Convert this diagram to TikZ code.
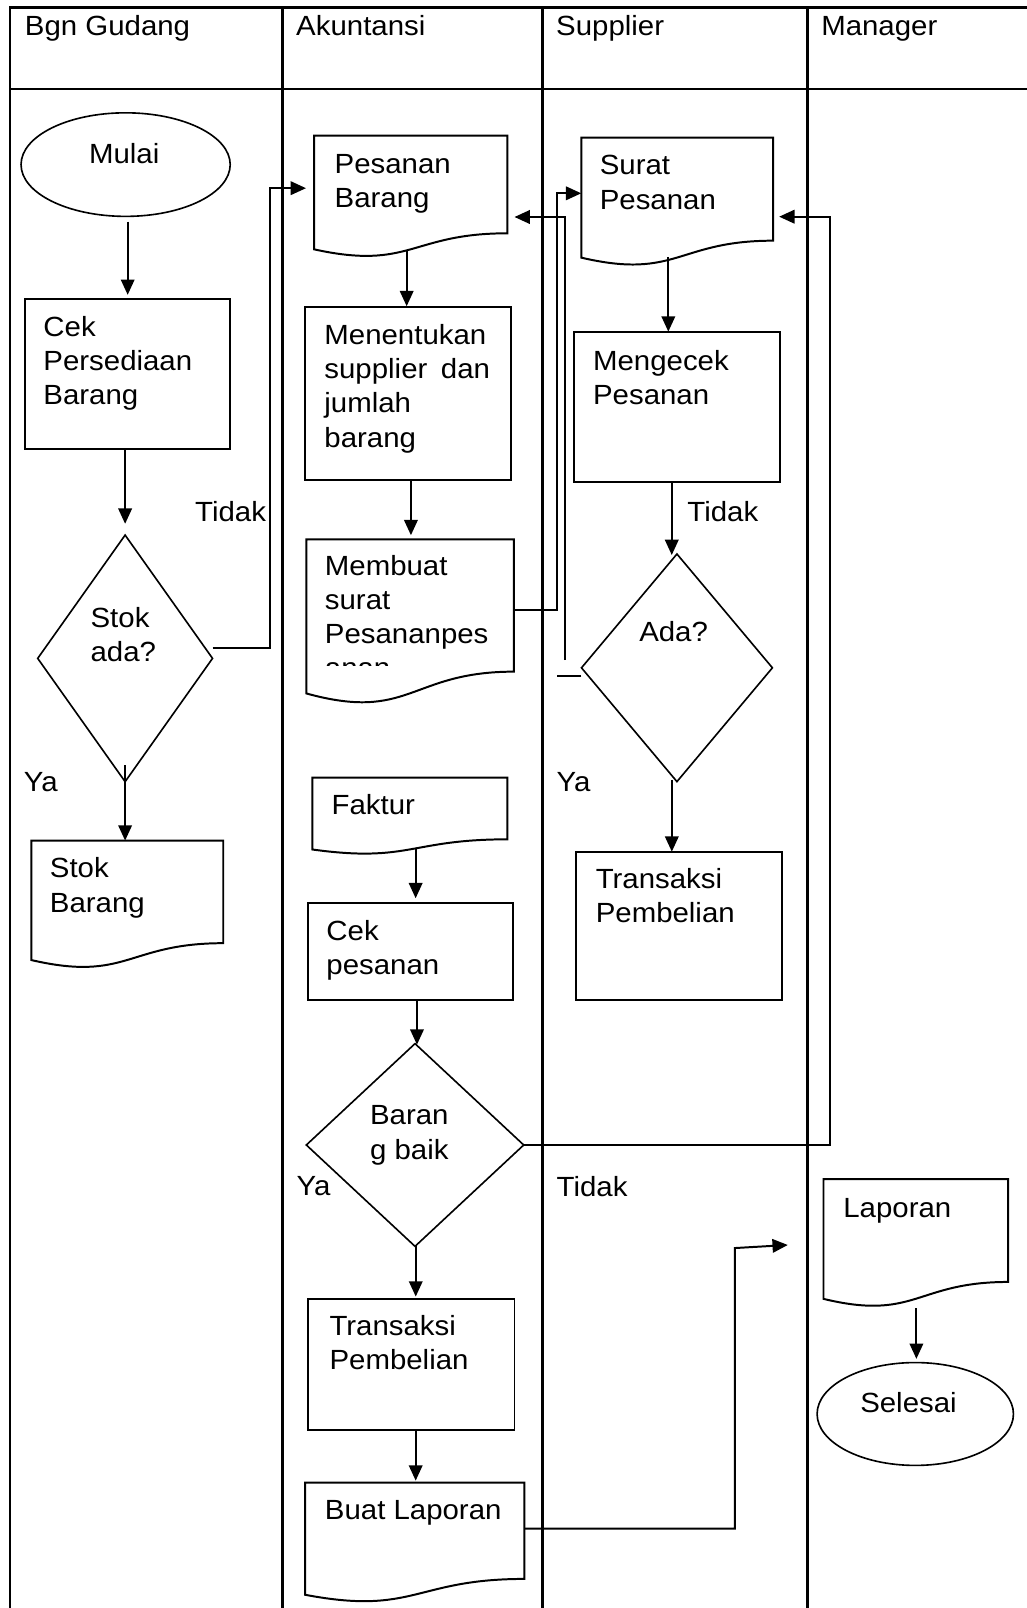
\documentclass[tikz,border=0pt]{standalone}
\usepackage{fontspec}
\setmainfont{Liberation Sans}[FakeStretch=1.06]
\usepackage{tikz}
\usetikzlibrary{arrows.meta,shapes.geometric,fit,calc}

% wavy bottom of a document symbol, drawn round a fitted node
\newcommand{\docwave}[1]{%
  \draw[line width=1.1pt] (#1.north west) -- (#1.north east)
    -- ($(#1.north east)!0.802!(#1.south east)$)
    .. controls ($(#1.north)!0.802!(#1.south)$) and ($(#1.north)!1.108!(#1.south)$)
    .. ($(#1.north west)!0.934!(#1.south west)$) -- cycle;}

\begin{document}
\begin{tikzpicture}[x=0.02cm, y=-0.02cm,
  lane/.style={line width=1.3pt},
  box/.style={draw, line width=1.1pt, inner sep=0, outer sep=0},
  doc/.style={inner sep=0, outer sep=0},
  term/.style={draw, ellipse, line width=0.9pt, inner sep=0, outer sep=0},
  decision/.style={draw, diamond, line width=0.9pt, inner sep=0, outer sep=0},
  txt/.style={inner sep=0, anchor=base west, align=left,
    font=\fontsize{15.4}{19}\selectfont},
  lines/.style={yshift=-#1*19pt},
  arr/.style={-{Triangle[length=8.5pt,width=7.5pt]}, line width=1.1pt}]

\useasboundingbox (0,0) rectangle (1001,1568);

% swimlanes
\draw[lane] (1001,7.2) -- (9.7,7.2) -- (9.7,1568);
\draw[lane] (9.7,87.1) -- (1001,87.1);
\foreach \x in {275.6, 529, 787.3}
  \draw[lane] (\x,7.2) -- (\x,1568);

\path
(24,34.8) node[txt] (gudang) {Bgn Gudang}
(288.5,34.8) node[txt] (akuntansi) {Akuntansi}
(542,34.8) node[txt] (supplier) {Supplier}
(800.5,34.8) node[txt] (manager) {Manager};

%% bgn gudang
\node[term, minimum width=4.08cm, minimum height=2.02cm] (mulai) at (122.5,160.5) {};
\node[txt] (mulaitext) at (86.5,159) {Mulai};

\node[box, fit={(24.3,291.5) (224.7,437.8)}] (cek) {};
\node[txt, lines=2] (cektext) at (42,328) {Cek\\Persediaan\\Barang};

\node[decision, minimum width=3.41cm, minimum height=4.81cm] (stok) at (122,642) {};
\node[txt, lines=1] (stoktext) at (88,612) {Stok\\ada?};

\node[doc, fit={(30.6,819.7) (217.7,944.4)}] (stokbrg) {};
\docwave{stokbrg}
\node[txt, lines=1] (stokbrgtext) at (48.3,856) {Stok\\Barang};

\node[txt] (tidaka) at (190,508.6) {Tidak};
\node[txt] (yaa) at (23,772) {Ya};

%% akuntansi
\node[doc, fit={(306.4,132.3) (494.7,251)}] (pesanan) {};
\docwave{pesanan}
\node[txt, lines=1] (pesanantext) at (326,169) {Pesanan\\Barang};

\node[box, fit={(297.5,299.6) (497.9,468.4)}] (tentukan) {};
\node[txt, lines=3] (tentukantext) at (316,335.8) {Menentukan\\supplier\hspace{3pt} dan\\jumlah\\barang};

\node[doc, fit={(298.7,525.9) (501,686.8)}] (membuat) {};
\docwave{membuat}
\begin{scope}
  \clip (290,540) rectangle (510,648.5);
  \node[txt, lines=3] (membuattext) at (316.5,560.7) {Membuat\\surat\\Pesananpes\\anan};
\end{scope}

\node[doc, fit={(304.5,758.3) (494.7,833.3)}] (faktur) {};
\docwave{faktur}
\node[txt] (fakturtext) at (323,794.7) {Faktur};

\node[box, fit={(300,880.9) (500,975)}] (cekpsn) {};
\node[txt, lines=1] (cekpsntext) at (318,917.3) {Cek\\pesanan};

\node[decision, minimum width=4.24cm, minimum height=3.954cm] (baik) at (404.7,1116.5) {};
\node[txt, lines=1] (baiktext) at (360.5,1097) {Baran\\g baik};
\node[txt] (yab) at (289,1166) {Ya};

\node[box, fit={(300.6,1266.3) (501.7,1394.8)}] (trans1) {};
\node[txt, lines=1] (trans1text) at (321,1302.2) {Transaksi\\Pembelian};

\node[doc, fit={(297.5,1445.8) (511.3,1562.8)}] (buat) {};
\docwave{buat}
\node[txt] (buattext) at (316.5,1481.8) {Buat Laporan};

%% supplier
\node[doc, fit={(566.8,134.2) (753.8,259.5)}] (surat) {};
\docwave{surat}
\node[txt, lines=1] (surattext) at (584.5,170.6) {Surat\\Pesanan};

\node[box, fit={(559.8,324) (760.9,470.3)}] (mengecek) {};
\node[txt, lines=1] (mengecektext) at (578,360.8) {Mengecek\\Pesanan};
\node[txt] (tidakb) at (670,508.7) {Tidak};

\node[decision, minimum width=3.724cm, minimum height=4.44cm] (ada) at (660.1,651.2) {};
\node[txt] (adatext) at (623,625.7) {Ada?};
\node[txt] (yac) at (542.5,772) {Ya};

\node[box, fit={(561.7,830.5) (762.8,975)}] (trans2) {};
\node[txt, lines=1] (trans2text) at (580.6,866.2) {Transaksi\\Pembelian};
\node[txt] (tidakc) at (542.5,1167.2) {Tidak};

%% manager
\node[doc, fit={(803,1149.8) (983,1274.8)}] (laporan) {};
\docwave{laporan}
\node[txt] (laporantext) at (822,1186.9) {Laporan};

\node[term, minimum width=3.83cm, minimum height=2.006cm] (selesai) at (892.5,1378.8) {};
\node[txt] (selesaitext) at (838.5,1377.8) {Selesai};

%% connectors
\coordinate (tidakturn) at (263,183.5);
\coordinate (suratin) at (543.2,188.5);
\coordinate (adastub) at (543.2,659.2);
\coordinate (adaup) at (551.4,643.6);
\coordinate (adaturn) at (551.4,211.6);
\coordinate (baikturn) at (809.4,211.3);
\coordinate (laporanturn) at (716.5,1217);
\coordinate (laporanend) at (768.2,1214);

\draw[arr] ($(mulai.south)+(2,5)$) -- ($(cek.north)+(0,-4)$);
\draw[arr] (stok.north |- cek.south) -- ($(stok.north)+(0,-11)$);
\draw[arr] ($(stok.east)+(0,-10)$) -| (tidakturn) -- ($(pesanan.west |- tidakturn)+(-8,0)$);
\draw[arr] ($(stok.south)+(0,-16)$) -- (stok.south |- stokbrg.north);

\draw[arr] ($(pesanan.south)+(-4,-6)$) -- ($(pesanan.south |- tentukan.north)+(-4,-1)$);
\draw[arr] ($(tentukan.south)+(3,0)$) -- ($(tentukan.south |- membuat.north)+(3,-4)$);
\draw[arr] ($(membuat.east)+(0,-11.3)$) -| (suratin) -- (surat.west |- suratin);
\draw[line width=1.1pt] (ada.west |- adastub) -- (adastub);
\draw[arr] (adaup) -- (adaturn) -- ($(pesanan.east |- adaturn)+(7,0)$);

\draw[arr] ($(surat.south)+(-8.6,-9)$) -- ($(surat.south |- mengecek.north)+(-8.6,-0.6)$);
\draw[arr] ($(mengecek.south)+(-5.3,0)$) -- ($(mengecek.south |- ada.north)+(-5.3,1)$);
\draw[arr] ($(ada.south)+(-5,-1.6)$) -- ($(ada.south |- trans2.north)+(-5,0)$);

\draw[arr] ($(faktur.south)+(5.7,-5.3)$) -- ($(faktur.south |- cekpsn.north)+(5.7,-5)$);
\draw[arr] ($(cekpsn.south)+(6.6,0)$) -- ($(cekpsn.south |- baik.north)+(6.6,1)$);
\draw[arr] ($(baik.south)+(0.7,0)$) -- ($(baik.south |- trans1.north)+(0.7,-2)$);
\draw[arr] (baik.east) -| (baikturn) -- ($(surat.east |- baikturn)+(6,0)$);
\draw[arr] ($(trans1.south)+(4.2,0)$) -- ($(trans1.south |- buat.north)+(4.2,-2)$);
\draw[arr] ($(buat.east)+(0,-13.8)$) -| (laporanturn) -- (laporanend);
\draw[arr] ($(laporan.south)+(0.6,1)$) -- ($(laporan.south |- selesai.north)+(0.6,-3.6)$);

\end{tikzpicture}
\end{document}
